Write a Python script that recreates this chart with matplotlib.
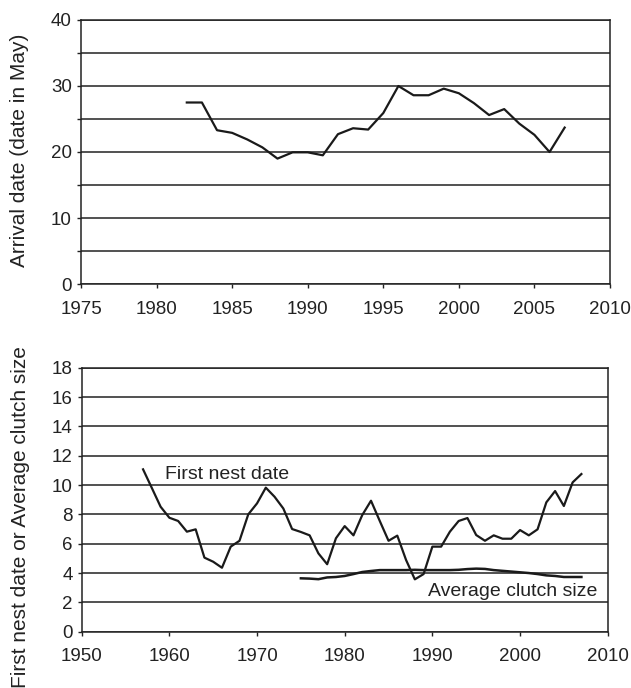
import matplotlib.pyplot as plt
import numpy as np
from matplotlib import rcParams
from matplotlib.ticker import FuncFormatter

rcParams['font.family'] = ['Liberation Sans', 'DejaVu Sans']
rcParams['font.size'] = 13.5

# arrival date of the birds, day in May
arrival_years = np.arange(1982, 2008)
arrival_day = [27.5, 27.5, 23.3, 22.9, 21.9, 20.7, 19.0, 19.95, 19.95, 19.5,
               22.7, 23.6, 23.4, 25.9, 30.0, 28.6, 28.6, 29.6, 28.9, 27.4,
               25.6, 26.5, 24.3, 22.6, 20.0, 23.7]

# first nest date
nest_years = np.arange(1957, 2008)
first_nest = [11.07, 9.8, 8.52, 7.77, 7.55, 6.82, 6.98, 5.05, 4.77, 4.36,
              5.8, 6.2, 8.0, 8.75, 9.82, 9.2, 8.4, 7.0, 6.8, 6.57,
              5.34, 4.6, 6.37, 7.2, 6.57, 7.95, 8.93, 7.55, 6.2, 6.55,
              4.89, 3.57, 3.93, 5.8, 5.8, 6.82, 7.55, 7.75, 6.59, 6.2,
              6.57, 6.34, 6.34, 6.93, 6.57, 6.98, 8.82, 9.59, 8.57, 10.18,
              10.75]

# average clutch size
clutch_years = np.arange(1975, 2008)
clutch_size = [3.64, 3.62, 3.58, 3.7, 3.73, 3.8, 3.93, 4.07, 4.14, 4.2,
               4.2, 4.2, 4.2, 4.22, 4.2, 4.2, 4.2, 4.2, 4.22, 4.27,
               4.3, 4.28, 4.2, 4.15, 4.1, 4.05, 4.0, 3.93, 3.84, 3.8,
               3.73, 3.73, 3.73]

GRID = '#333333'
LINE = '#1a1a1a'
TEXT = '#222222'


def style_axis(ax, xmin, xmax, xstep, ymax, ystep, ylabel_step):
    ax.set_xlim(xmin, xmax)
    ax.set_ylim(0, ymax)
    ax.set_xticks(np.arange(xmin, xmax + 1, xstep))
    ax.set_yticks(np.arange(0, ymax + 1, ystep))
    ax.yaxis.set_major_formatter(
        FuncFormatter(lambda v, p: f'{int(v)}' if v % ylabel_step == 0 else ''))
    ax.yaxis.grid(True, color=GRID, lw=1.2)
    ax.set_axisbelow(True)
    for s in ax.spines.values():
        s.set_color(TEXT)
        s.set_linewidth(1.1)
    ax.tick_params(direction='out', length=3, width=1, color=TEXT,
                   labelcolor=TEXT)
    ax.tick_params(axis='x', pad=9)
    ax.tick_params(axis='y', pad=3.5)


fig = plt.figure(figsize=(6.31, 6.88), dpi=100)

ax1 = fig.add_axes([81 / 631, 1 - 284 / 688, 529 / 631, 264 / 688])
ax1.plot(arrival_years, arrival_day, color=LINE, lw=1.6)
style_axis(ax1, 1975, 2010, 5, 40, 5, 10)

ax2 = fig.add_axes([81.7 / 631, 1 - 631.7 / 688, 526 / 631, 264 / 688])
ax2.plot(nest_years, first_nest, color=LINE, lw=1.6)
ax2.plot(clutch_years, clutch_size, color=LINE, lw=1.8)
style_axis(ax2, 1950, 2010, 10, 18, 2, 2)
ax2.text(1959.5, 10.75, 'First nest date', va='center', ha='left',
         color=TEXT, fontsize=14)
ax2.text(1989.5, 2.77, 'Average clutch size', va='center', ha='left',
         color=TEXT, fontsize=14)

fig.text(20 / 631, 1 - 150 / 688, 'Arrival date (date in May)',
         rotation=90, ha='center', va='center', color=TEXT, fontsize=15)
fig.text(21 / 631, 1 - 517 / 688, 'First nest date or Average clutch size',
         rotation=90, ha='center', va='center', color=TEXT, fontsize=15)

fig.savefig('out.png', dpi=100)
